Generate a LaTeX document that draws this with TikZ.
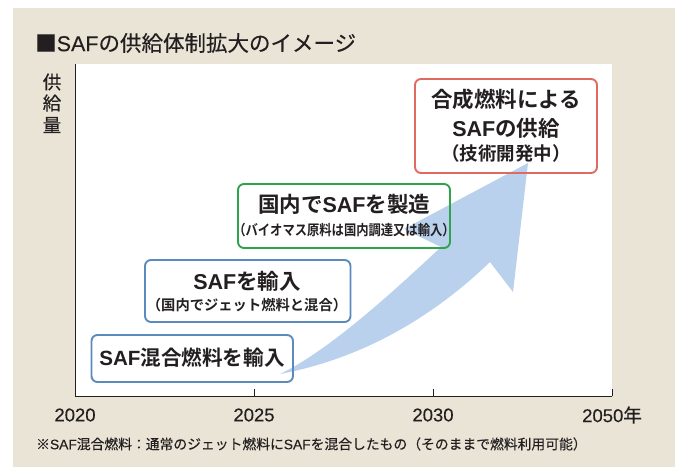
\documentclass[tikz,border=0pt]{standalone}
\usepackage{fontspec}
\setmainfont{Liberation Sans}
\newfontfamily\jp[FakeBold=0.25]{Noto Sans CJK JP}
\newfontfamily\jpb{Noto Sans CJK JP Bold}
\newfontfamily\latb{Liberation Sans Bold}
\newfontfamily\latm[FakeBold=0.15]{Liberation Sans}
\newcommand{\lb}[1]{{\latb #1}}
\newcommand{\lm}[1]{{\latm #1}}
\begin{document}
\begin{tikzpicture}[x=1pt,y=-1pt,
  lab/.style={inner sep=0pt,text=ink,font=\jp},
  bx/.style={draw,rounded corners=6pt,line width=1.9pt},
  head/.style={inner sep=0pt,text=ink,font=\jpb\fontsize{21.5}{24}\selectfont,anchor=center},
  sub/.style={inner sep=0pt,text=ink,font=\jpb\fontsize{14.3}{17}\selectfont,anchor=center},
  axlab/.style={lab,font=\jp\fontsize{18.5}{22}\selectfont},
  yearlab/.style={inner sep=0pt,text=ink,font=\latm\fontsize{18.5}{22}\selectfont},
  tick/.style={draw=ink,line width=0.6pt}]
\definecolor{ink}{HTML}{231F20}
\definecolor{panel}{HTML}{E9E4D5}
\definecolor{arrowc}{HTML}{B9D1EC}
\definecolor{bluec}{HTML}{5B8ABD}
\definecolor{greenc}{HTML}{2FA34A}
\definecolor{redc}{HTML}{DF6A62}
\useasboundingbox (0,0) rectangle (680,467);
\fill[white] (0,0) rectangle (680,467);
\fill[panel] (13,8) rectangle (675,467);
\fill[white] (75,64) rectangle (612,396);
\draw[ink,line width=0.8pt] (75.5,64) -- (75.5,396) -- (612,396);
\coordinate (t1) at (254,396); \coordinate (t1e) at (254,389);
\coordinate (t2) at (433,396); \coordinate (t2e) at (433,389);
\coordinate (t3) at (612,396); \coordinate (t3e) at (612,389);
\draw[tick] (t1)--(t1e); \draw[tick] (t2)--(t2e); \draw[tick] (t3)--(t3e);
% growth arrow
\fill[arrowc] (280,374) .. controls (330,350) and (395,290) .. (441,247)
  -- (404,229) -- (528,163) -- (513,292) -- (490,262)
  .. controls (435,315) and (365,358) .. (280,374) -- cycle;
% boxes
\draw[bx,draw=bluec] (91.5,335) rectangle (293,382);
\draw[bx,draw=bluec] (145,260) rectangle (350.5,322);
\draw[bx,draw=greenc] (238,184) rectangle (450,248);
\draw[bx,draw=redc] (415,79) rectangle (597,173);
\node[head,font=\jpb\fontsize{20.6}{24}\selectfont] (a) at (192,358) {\lb{SAF}混合燃料を輸入};
\node[head] (b) at (247,281) {\lb{SAF}を輸入};
\node[sub] (b2) at (247,305) {（国内でジェット燃料と混合）};
\node[head] (c) at (344,204) {国内で\lb{SAF}を製造};
\node[sub] (c2) at (344,230) {\scalebox{0.86}[1]{（バイオマス原料は国内調達又は輸入）}};
\node[head] (d1) at (506,99) {合成燃料による};
\node[head] (d2) at (506,128) {\lb{SAF}の供給};
\node[sub,font=\jpb\fontsize{18.5}{20}\selectfont] (d3) at (506,153) {（技術開発中）};
\node[lab,font=\jp\fontsize{21.5}{24}\selectfont,anchor=west] (title) at (35,43) {■\lm{SAF}の供給体制拡大のイメージ};
\node[axlab,anchor=center] (y1) at (52,82) {供};
\node[axlab,anchor=center] (y2) at (52,103) {給};
\node[axlab,anchor=center] (y3) at (52,125) {量};
\node[yearlab,anchor=center] (x0) at (75,415) {2020};
\node[yearlab,anchor=center] (x1) at (254,415) {2025};
\node[yearlab,anchor=center] (x2) at (433,415) {2030};
\node[yearlab,anchor=west] (x3) at (582,415) {2050{\jp 年}};
\node[lab,font=\jp\fontsize{13.8}{16}\selectfont,anchor=west] (note) at (36,444) {※\lm{SAF}混合燃料：通常のジェット燃料に\lm{SAF}を混合したもの（そのままで燃料利用可能）};
\end{tikzpicture}
\end{document}
